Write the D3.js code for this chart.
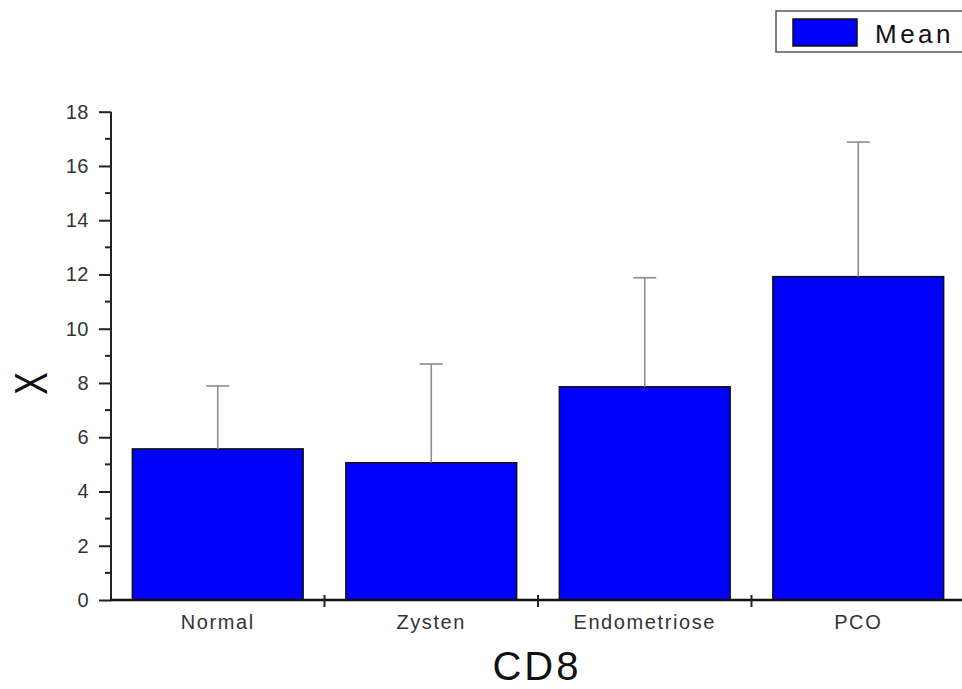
<!DOCTYPE html>
<html>
<head>
<meta charset="utf-8">
<script src="https://cdn.jsdelivr.net/npm/d3@7"></script>
<style>
  html, body { margin: 0; padding: 0; background: #fff; }
  svg { display: block; font-family: "Liberation Sans", Arial, sans-serif; }
</style>
</head>
<body>
<svg id="chart" width="962" height="689"></svg>
<script>
// CD8 group means with standard deviation
const categories = ["Normal", "Zysten", "Endometriose", "PCO"];
const means = [5.57, 5.06, 7.86, 11.92];
const sds = [2.32, 3.64, 4.02, 4.96];
const yTicks = [0, 2, 4, 6, 8, 10, 12, 14, 16, 18];

const svg = d3.select("#chart");
const x0 = 111, x1 = 965, yTop = 111.7, yBottom = 600;

const x = d3.scaleBand().domain(categories).range([x0, x1])
  .paddingInner(0.2).paddingOuter(0.1);
const y = d3.scaleLinear().domain([0, 18]).range([yBottom, yTop]);

const data = categories.map((c, i) => ({ c, m: means[i], sd: sds[i] }));

// bars
svg.append("g").selectAll("rect").data(data).join("rect")
  .attr("x", d => x(d.c))
  .attr("y", d => y(d.m))
  .attr("width", x.bandwidth())
  .attr("height", d => y(0) - y(d.m))
  .attr("fill", "#0000ff")
  .attr("stroke", "#111")
  .attr("stroke-width", 1.5);

// upper error bars
const eb = svg.append("g").attr("stroke", "#8c8c8c").attr("stroke-width", 1.6);
eb.selectAll("line.v").data(data).join("line").attr("class", "v")
  .attr("x1", d => x(d.c) + x.bandwidth() / 2)
  .attr("x2", d => x(d.c) + x.bandwidth() / 2)
  .attr("y1", d => y(d.m))
  .attr("y2", d => y(d.m + d.sd));
eb.selectAll("line.cap").data(data).join("line").attr("class", "cap")
  .attr("x1", d => x(d.c) + x.bandwidth() / 2 - 11.5)
  .attr("x2", d => x(d.c) + x.bandwidth() / 2 + 11.5)
  .attr("y1", d => y(d.m + d.sd))
  .attr("y2", d => y(d.m + d.sd));

// y axis
const yAxis = d3.axisLeft(y).tickValues(yTicks).tickSize(12).tickPadding(10)
  .tickFormat(d3.format("d"));
const gy = svg.append("g").attr("transform", `translate(${x0},0)`).call(yAxis)
  .attr("font-size", 20).attr("font-family", "Liberation Sans, Arial, sans-serif");
gy.select(".domain").attr("stroke", "#222").attr("stroke-width", 2)
  .attr("d", `M0,${yBottom}V${yTop}`);
gy.selectAll(".tick line").attr("stroke", "#222").attr("stroke-width", 2);
gy.selectAll(".tick text").attr("fill", "#333").style("letter-spacing", "0.5px");

// minor y ticks
const minor = d3.range(1, 18, 2);
svg.append("g").selectAll("line").data(minor).join("line")
  .attr("x1", x0 - 6).attr("x2", x0)
  .attr("y1", d => y(d)).attr("y2", d => y(d))
  .attr("stroke", "#222").attr("stroke-width", 2);

// x axis
svg.append("line").attr("x1", x0 - 1).attr("x2", 962)
  .attr("y1", yBottom).attr("y2", yBottom)
  .attr("stroke", "#111").attr("stroke-width", 2.5);
// separators between categories
const seps = categories.slice(1).map(c => x(c) - x.step() * x.paddingInner() / 2);
svg.append("g").selectAll("line").data(seps).join("line")
  .attr("x1", d => d).attr("x2", d => d)
  .attr("y1", yBottom - 5).attr("y2", yBottom + 7)
  .attr("stroke", "#222").attr("stroke-width", 2);
svg.append("g").selectAll("text").data(categories).join("text")
  .attr("x", d => x(d) + x.bandwidth() / 2)
  .attr("y", 629)
  .attr("text-anchor", "middle")
  .attr("fill", "#333")
  .attr("font-size", 20)
  .style("letter-spacing", "1.6px")
  .text(d => d);

// axis titles
svg.append("text").attr("x", 537).attr("y", 680).attr("text-anchor", "middle")
  .attr("font-size", 40).attr("fill", "#111").style("letter-spacing", "3px").text("CD8");
svg.append("text")
  .attr("transform", "translate(46.5,383.5) rotate(-90) scale(0.72,1)")
  .attr("text-anchor", "middle")
  .attr("font-size", 47).attr("fill", "#111").text("X");

// legend
svg.append("rect").attr("x", 776).attr("y", 11).attr("width", 200).attr("height", 41)
  .attr("fill", "#fff").attr("stroke", "#555").attr("stroke-width", 1.5);
svg.append("rect").attr("x", 793).attr("y", 19).attr("width", 64).attr("height", 27)
  .attr("fill", "#0000ff").attr("stroke", "#111").attr("stroke-width", 1.5);
svg.append("text").attr("x", 875).attr("y", 43).attr("font-size", 26)
  .attr("fill", "#111").style("letter-spacing", "3.5px").text("Mean");
</script>
</body>
</html>
